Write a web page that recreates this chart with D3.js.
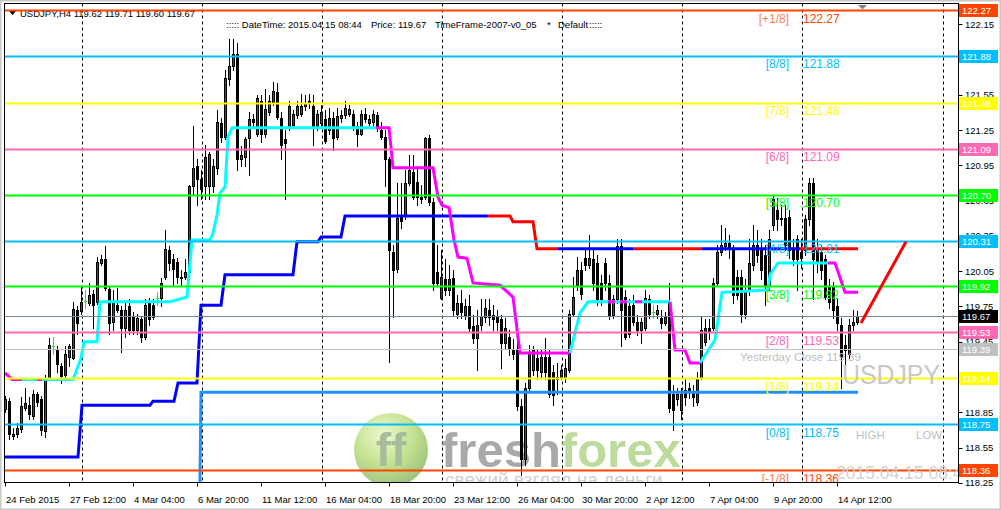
<!DOCTYPE html>
<html>
<head>
<meta charset="utf-8">
<script src="https://cdn.jsdelivr.net/npm/d3@7"></script>
<style>
  body { margin: 0; background: #fff; }
  svg { display: block; }
</style>
</head>
<body>
<svg id="chart"></svg>
<script>
// USDJPY H4, one row per bar: [open, high, low, close]
const bars = [
  [118.88,118.99,118.85,118.96],[118.95,118.97,118.62,118.67],[118.65,118.72,118.62,118.67],[118.67,118.76,118.64,118.72],
  [118.71,118.98,118.68,118.90],[118.89,119.06,118.87,118.93],[118.91,118.98,118.79,118.84],[118.82,119.04,118.79,119.01],
  [119.01,119.02,118.90,118.94],[118.96,118.99,118.66,118.70],[118.69,119.17,118.64,119.13],[119.15,119.48,119.13,119.42],
  [119.41,119.49,119.35,119.41],[119.38,119.41,119.19,119.26],[119.24,119.27,119.10,119.16],[119.17,119.41,119.15,119.35],
  [119.32,119.43,119.24,119.41],[119.31,119.79,119.30,119.73],[119.72,119.75,119.52,119.61],[119.71,119.92,119.69,119.79],
  [119.80,119.89,119.74,119.80],[119.78,119.95,119.76,119.85],[119.86,119.89,119.57,119.76],[119.79,120.17,119.77,120.13],
  [120.12,120.19,120.10,120.15],[120.15,120.26,119.89,119.91],[119.90,119.92,119.52,119.61],[119.62,119.89,119.55,119.78],
  [119.76,119.91,119.70,119.72],[119.72,119.75,119.36,119.57],[119.57,119.78,119.49,119.72],[119.75,119.81,119.52,119.55],
  [119.66,119.70,119.52,119.55],[119.55,119.69,119.52,119.65],[119.64,119.67,119.45,119.49],[119.49,119.81,119.47,119.76],
  [119.78,119.82,119.59,119.64],[119.76,119.81,119.64,119.66],[119.82,119.87,119.76,119.82],[119.82,119.99,119.75,119.95],
  [120.00,120.40,119.98,120.24],[120.23,120.26,120.06,120.12],[120.15,120.20,119.93,120.07],[120.13,120.16,119.95,120.00],
  [120.00,120.06,119.93,119.99],[120.00,120.15,119.98,120.04],[120.04,120.78,119.98,120.77],[120.77,121.28,120.71,120.93],
  [120.94,121.00,120.61,120.83],[120.83,120.91,120.66,120.75],[120.77,121.12,120.66,121.02],[120.77,121.06,120.66,121.05],
  [120.77,121.00,120.72,120.94],[120.93,121.42,120.88,121.32],[121.31,121.35,121.15,121.19],[121.19,121.76,121.17,121.69],
  [121.68,122.02,121.63,121.79],[121.79,122.02,121.76,121.90],[121.90,121.99,120.91,121.00],[121.00,121.11,120.94,121.04],
  [121.02,121.19,120.94,121.17],[121.18,121.40,120.87,121.34],[121.34,121.39,121.27,121.32],[121.22,121.55,121.20,121.52],
  [121.50,121.55,121.15,121.22],[121.22,121.60,121.19,121.43],[121.40,121.55,121.38,121.50],[121.49,121.66,121.46,121.58],
  [121.57,121.65,121.34,121.36],[121.35,121.40,121.00,121.12],[121.17,121.25,120.66,121.14],[121.28,121.50,121.25,121.45],
  [121.29,121.42,121.27,121.39],[121.38,121.50,121.35,121.45],[121.39,121.56,121.37,121.45],[121.45,121.55,121.42,121.48],
  [121.50,121.56,121.44,121.48],[121.45,121.55,121.12,121.28],[121.28,121.42,121.25,121.39],[121.31,121.46,121.29,121.40],
  [121.34,121.42,121.14,121.16],[121.25,121.44,121.22,121.35],[121.35,121.40,121.08,121.18],[121.19,121.44,121.17,121.37],
  [121.35,121.42,121.32,121.38],[121.38,121.50,121.35,121.44],[121.39,121.46,121.37,121.43],[121.39,121.42,121.25,121.28],
  [121.28,121.32,121.11,121.22],[121.22,121.42,121.21,121.39],[121.39,121.44,121.32,121.34],[121.31,121.38,121.29,121.34],
  [121.32,121.42,121.29,121.39],[121.38,121.40,121.24,121.27],[121.25,121.32,121.17,121.19],[121.19,121.25,120.77,121.00],
  [121.00,121.02,119.28,120.23],[120.21,120.27,119.66,120.06],[120.07,120.80,120.04,120.50],[120.52,120.80,120.42,120.48],
  [120.53,120.91,120.49,120.80],[120.80,121.04,120.78,120.91],[120.89,121.04,120.66,120.68],[120.81,120.94,120.61,120.68],
  [120.68,120.78,120.63,120.66],[120.68,121.19,120.66,121.18],[121.18,121.21,120.61,120.64],[120.64,120.67,119.89,119.95],
  [120.04,120.27,119.92,119.95],[119.82,120.23,119.81,120.00],[119.98,120.15,119.85,119.89],[119.89,120.10,119.85,119.98],
  [119.99,120.06,119.68,119.72],[119.69,119.85,119.65,119.78],[119.78,119.89,119.65,119.70],[119.68,119.81,119.64,119.75],
  [119.75,119.85,119.53,119.57],[119.58,119.68,119.44,119.48],[119.48,119.72,119.21,119.59],[119.59,119.81,119.55,119.67],
  [119.66,119.81,119.62,119.74],[119.72,119.81,119.59,119.66],[119.68,119.76,119.55,119.64],[119.66,119.72,119.55,119.62],
  [119.64,119.68,119.23,119.44],[119.44,119.65,119.40,119.57],[119.49,119.55,119.34,119.40],[119.38,119.47,119.30,119.35],
  [119.38,119.61,118.87,118.90],[118.90,118.96,118.32,118.45],[118.45,119.10,118.40,119.06],[119.06,119.42,119.02,119.36],
  [119.21,119.41,119.17,119.38],[119.31,119.38,119.13,119.21],[119.19,119.38,119.14,119.32],[119.32,119.48,119.13,119.19],
  [119.32,119.38,118.98,119.01],[119.19,119.25,118.91,119.00],[119.13,119.27,119.01,119.15],[119.15,119.25,119.13,119.21],
  [119.14,119.30,119.11,119.23],[119.21,119.72,119.19,119.69],[119.69,120.00,119.68,119.83],[119.93,120.17,119.89,120.06],
  [120.06,120.13,119.81,119.86],[120.16,120.23,120.06,120.10],[120.10,120.36,120.08,120.16],[120.15,120.23,119.89,119.95],
  [120.12,120.19,119.76,119.81],[119.95,120.02,119.76,119.81],[120.12,120.16,119.89,119.95],[119.95,120.02,119.64,119.68],
  [119.68,119.85,119.65,119.81],[119.81,120.32,119.78,120.26],[120.26,120.32,119.41,119.72],[119.83,119.89,119.47,119.49],
  [119.75,119.81,119.49,119.52],[119.76,119.85,119.59,119.62],[119.62,119.68,119.51,119.55],[119.55,119.65,119.44,119.62],
  [119.57,119.89,119.55,119.82],[119.81,119.85,119.65,119.69],[119.70,119.76,119.65,119.70],[119.69,119.76,119.65,119.72],
  [119.65,119.72,119.57,119.61],[119.61,119.70,119.59,119.66],[119.78,119.95,118.85,118.89],[119.01,119.08,118.70,118.87],
  [118.96,119.06,118.91,119.01],[118.87,119.06,118.79,119.01],[119.04,119.13,118.91,118.98],[119.06,119.10,118.97,119.02],
  [119.02,119.08,118.90,118.98],[118.94,119.19,118.91,119.14],[119.14,119.66,119.13,119.55],[119.45,119.64,119.42,119.57],
  [119.57,119.64,119.47,119.53],[119.57,119.99,119.55,119.95],[119.95,120.27,119.93,120.21],[120.21,120.44,120.19,120.27],
  [120.26,120.42,120.23,120.29],[120.29,120.36,120.16,120.25],[120.23,120.27,119.78,119.85],[120.00,120.06,119.81,119.85],
  [120.00,120.06,119.62,119.69],[119.69,119.98,119.65,119.89],[119.89,120.32,119.85,120.12],[120.10,120.44,120.06,120.27],
  [120.27,120.40,120.13,120.19],[120.23,120.32,119.98,120.06],[120.19,120.27,119.76,119.93],[119.93,120.40,119.89,120.32],
  [120.44,120.70,120.40,120.66],[120.57,120.67,120.40,120.49],[120.49,120.61,120.44,120.50],[120.50,120.61,120.23,120.27],
  [120.51,120.57,120.16,120.23],[120.23,120.32,120.10,120.15],[120.32,120.36,119.89,120.15],[120.21,120.32,120.08,120.16],
  [120.23,120.53,120.19,120.49],[120.49,120.84,120.44,120.80],[120.80,120.84,119.81,120.15],[120.23,120.32,120.04,120.13],
  [120.21,120.27,119.98,120.06],[120.15,120.19,119.81,119.83],[119.92,119.98,119.74,119.79],[119.92,119.96,119.65,119.72],
  [119.75,119.81,119.55,119.61],[119.59,119.65,119.06,119.32],[119.42,119.51,119.25,119.38],[119.35,119.64,119.31,119.59],
  [119.59,119.72,119.55,119.62],[119.62,119.71,119.60,119.67]
];

// Murrey Math levels
const mmNames  = ["[+1/8]", "[8/8]", "[7/8]", "[6/8]", "[5/8]", "[4/8]", "[3/8]", "[2/8]", "[1/8]", "[0/8]", "[-1/8]"];
const mmValues = [122.27, 121.88, 121.48, 121.09, 120.70, 120.31, 119.92, 119.53, 119.14, 118.75, 118.36];
const lastPrice = 119.67;
const yesterdayClose = 119.39;

// trailing trend line [bar, price] and its up / down stretches
const trendPts = [[0,119.185],[1.75,119.13],[17,119.13],[19,119.31],[19.75,119.45],[23,119.45],[23.75,119.79],
  [41.25,119.79],[45.5,119.83],[46.75,120.315],[51.25,120.315],[52,120.375],[53,120.53],[53.75,120.715],[55,120.765],
  [55.75,121.19],[56.75,121.27],[96,121.27],[97,120.93],[107,120.93],[108.25,120.68],[109.25,120.61],[111,120.59],
  [112.25,120.315],[113.25,120.17],[115.5,120.16],[117,119.95],[123.75,119.93],[127,119.83],[128.75,119.355],
  [141.25,119.355],[143.75,119.695],[145.75,119.79],[166.25,119.79],[167.5,119.38],[170,119.38],[171.25,119.27],
  [173.75,119.27],[177.5,119.465],[179.25,119.87],[190.75,119.89],[191.25,120.02],[193.25,120.12],[207.5,120.12],
  [210,119.87],[213.25,119.87]];
const trendState = [[0,4.25,"dn"],[4.25,8,"up"],[8,9.25,"dn"],[9.25,92.75,"up"],[92.75,141.25,"dn"],[141.25,166.25,"up"],
  [150.75,152.5,"dn"],[153.75,155.5,"dn"],[157.5,159.25,"dn"],[166.25,173.75,"dn"],[173.75,205.75,"up"],[205.75,213.25,"dn"]];

// stepped channel line [bar, price] and its up / down stretches
const stepPts = [[0,118.47],[18.25,118.47],[19.25,118.91],[36.25,118.91],[37,118.945],[42.25,118.945],[43.25,119.10],
  [48,119.10],[49,119.76],[54,119.76],[55,120.02],[72,120.02],[73,120.30],[78.25,120.30],[79,120.34],[84,120.34],
  [85,120.52],[126.25,120.52],[127,120.47],[132,120.47],[133,120.24],[213.25,120.24]];
const stepState = [[0,120.75,"up"],[120.75,138.25,"dn"],[138.25,157,"up"],[157,174.25,"dn"],[174.25,198.75,"up"],[198.75,213.25,"dn"]];

// support line and forecast line
const supportPts = [[48.75,117.8],[48.75,118.3],[49,119.02],[213.25,119.02]];
const forecastPts = [[214,119.61],[225.25,120.30]];

// axes (121.85 and 119.15 sit under the level boxes and are not shown)
const priceTicks = [118.25,118.55,118.85,119.45,119.75,120.05,120.35,120.65,120.95,121.25,121.55,122.15];
const timeLabels = ["24 Feb 2015","27 Feb 12:00","4 Mar 04:00","6 Mar 20:00","11 Mar 12:00","16 Mar 04:00","18 Mar 20:00",
  "23 Mar 12:00","26 Mar 04:00","30 Mar 20:00","2 Apr 12:00","7 Apr 04:00","9 Apr 20:00","14 Apr 12:00"];
const gridBars = [19.25, 49.25, 79.25, 109.25, 139.25, 169.25, 199.25, 234.5];

// ---------------------------------------------------------------
const W = 1001, H = 510;
const plot = {left: 4.5, right: 958.5, top: 3.5, bottom: 482.5};
const svg = d3.select("#chart").attr("width", W).attr("height", H);
const font = "'Liberation Sans', Arial, sans-serif";

const x = d3.scaleLinear().domain([0, 213]).range([5, 857]);
const y = d3.scaleLinear().domain([118.36, 122.27]).range([470, 10]);

const mmColor = ["#ff4500","#00bfff","#ffff00","#ff69b4","#00ff00","#00bfff","#00ff00","#ff69b4","#ffff00","#00bfff","#ff4500"];
const mmText  = ["#ff7f50","#00bfff","#ffff00","#ff69b4","#00ff00","#00bfff","#00ff00","#ff69b4","#ffff00","#00bfff","#ff7f50"];

svg.append("rect").attr("x", 0.5).attr("y", 0.5).attr("width", W - 1).attr("height", H - 1)
  .attr("fill", "#fff").attr("stroke", "#c8c8c8").attr("stroke-width", 2);

svg.append("clipPath").attr("id", "plotClip").append("rect")
  .attr("x", plot.left).attr("y", plot.top).attr("width", plot.right - plot.left).attr("height", plot.bottom - plot.top);

const g = svg.append("g").attr("clip-path", "url(#plotClip)");

// weekly separators
g.selectAll(".grid").data(gridBars).enter().append("line")
  .attr("x1", d => Math.round(x(d)) + 0.5).attr("x2", d => Math.round(x(d)) + 0.5)
  .attr("y1", plot.top).attr("y2", plot.bottom)
  .attr("stroke", "#000").attr("stroke-dasharray", "3,3");

// watermark
const wm = g.append("g").attr("opacity", 0.6);
const grad = svg.append("defs").append("radialGradient").attr("id", "ball").attr("cx", "40%").attr("cy", "30%").attr("r", "70%");
grad.append("stop").attr("offset", "0%").attr("stop-color", "#e6f5b0");
grad.append("stop").attr("offset", "55%").attr("stop-color", "#9fd04a");
grad.append("stop").attr("offset", "100%").attr("stop-color", "#5e9e2a");
wm.append("circle").attr("cx", 391).attr("cy", 450).attr("r", 37).attr("fill", "url(#ball)");
wm.append("text").attr("x", 391).attr("y", 466).attr("text-anchor", "middle")
  .attr("font-family", font).attr("font-weight", "bold").attr("font-size", 46).attr("fill", "#6b8f5a").text("ff");
const brand = wm.append("text").attr("x", 441).attr("y", 467)
  .attr("font-family", font).attr("font-weight", "bold").attr("font-size", 49);
brand.append("tspan").attr("fill", "#707070").text("fresh");
brand.append("tspan").attr("fill", "#8fc45a").text("forex");
wm.append("text").attr("x", 445).attr("y", 486).attr("font-family", font).attr("font-size", 19)
  .attr("fill", "#b0b0b0").text("свежий взгляд на деньги");

// header
g.append("path").attr("d", "M9,11 L16,11 L12.5,15 Z").attr("fill", "#000");
g.append("text").attr("x", 20).attr("y", 17).attr("font-family", font).attr("font-size", 9.5)
  .attr("fill", "#000").text("USDJPY,H4  " + bars[bars.length - 1].map(v => v.toFixed(2)).join(" "));
const info = [[226, "::::: DateTime: 2015.04.15 08:44"], [371, "Price: " + lastPrice.toFixed(2)],
  [435, "TimeFrame-2007-v0_05"], [547, "*"], [558, "Default"], [589, ":::::"]];
g.selectAll(".info").data(info).enter().append("text")
  .attr("x", d => d[0]).attr("y", 28).attr("font-family", font).attr("font-size", 9.5)
  .attr("fill", "#000").text(d => d[1]);

// candles
const px = v => Math.round(y(v));
const cand = g.append("g");
bars.forEach((b, i) => {
  const [o, h, l, c] = b;
  const cx = Math.round(x(i));
  const doji = o === c;
  const ink = doji ? "#00ff00" : "#000";
  cand.append("line").attr("x1", cx + 0.5).attr("x2", cx + 0.5)
    .attr("y1", px(h)).attr("y2", px(l) + 1).attr("stroke", ink);
  if (doji) {
    cand.append("line").attr("x1", cx - 1).attr("x2", cx + 2)
      .attr("y1", px(c) + 0.5).attr("y2", px(c) + 0.5).attr("stroke", ink);
    return;
  }
  const top = px(Math.max(o, c)), bot = px(Math.min(o, c));
  cand.append("rect").attr("x", cx - 0.5).attr("y", top + 0.5)
    .attr("width", 2).attr("height", Math.max(bot - top, 1))
    .attr("fill", c > o ? "#ff0000" : "#000").attr("stroke", "#000");
});

// helpers for coloured stretches of a polyline
function valueAt(pts, t) {
  for (let k = 1; k < pts.length; k++) {
    if (t <= pts[k][0]) {
      const a = pts[k - 1], b = pts[k];
      const f = b[0] === a[0] ? 1 : (t - a[0]) / (b[0] - a[0]);
      return a[1] + f * (b[1] - a[1]);
    }
  }
  return pts[pts.length - 1][1];
}
function stretch(pts, a, b) {
  const out = [[a, valueAt(pts, a)]];
  pts.forEach(p => { if (p[0] > a && p[0] < b) out.push(p); });
  out.push([b, valueAt(pts, b)]);
  return out;
}
const line = d3.line().x(d => x(d[0])).y(d => y(d[1]));

// support line (dodger blue)
g.append("path").attr("d", line(supportPts)).attr("fill", "none")
  .attr("stroke", "#1e90ff").attr("stroke-width", 3);

// stepped channel line
stepState.forEach(s => {
  g.append("path").attr("d", line(stretch(stepPts, s[0], s[1]))).attr("fill", "none")
    .attr("stroke", s[2] === "up" ? "#0000ff" : "#ff0000").attr("stroke-width", 3);
});

// trend line
trendState.forEach(s => {
  g.append("path").attr("d", line(stretch(trendPts, s[0], s[1]))).attr("fill", "none")
    .attr("stroke", s[2] === "up" ? "#00ffff" : "#ff00ff").attr("stroke-width", 3);
});

// Murrey Math lines
g.selectAll(".mm").data(mmValues).enter().append("line")
  .attr("x1", plot.left).attr("x2", plot.right)
  .attr("y1", d => px(d) + 0.5).attr("y2", d => px(d) + 0.5)
  .attr("stroke", (d, i) => mmColor[i]).attr("stroke-width", 2);

// last price and yesterday close
g.append("line").attr("x1", plot.left).attr("x2", plot.right)
  .attr("y1", px(lastPrice) + 0.5).attr("y2", px(lastPrice) + 0.5).attr("stroke", "#778899");
g.append("line").attr("x1", plot.left).attr("x2", plot.right)
  .attr("y1", px(yesterdayClose) + 0.5).attr("y2", px(yesterdayClose) + 0.5).attr("stroke", "#c0c0c0");

// forecast line
g.append("path").attr("d", line(forecastPts)).attr("fill", "none")
  .attr("stroke", "#ff0000").attr("stroke-width", 3);

// level captions
g.selectAll(".mmName").data(mmNames).enter().append("text")
  .attr("x", 789).attr("y", (d, i) => y(mmValues[i]) + 12.5).attr("text-anchor", "end")
  .attr("font-family", font).attr("font-size", 12).attr("fill", (d, i) => mmText[i]).text(d => d);
g.selectAll(".mmVal").data(mmValues).enter().append("text")
  .attr("x", 803).attr("y", d => y(d) + 12.5)
  .attr("font-family", font).attr("font-size", 12).attr("fill", (d, i) => mmColor[i]).text(d => d.toFixed(2));

g.append("text").attr("x", 740).attr("y", y(yesterdayClose) + 12)
  .attr("font-family", font).attr("font-size", 11.5).attr("fill", "#c0c0c0")
  .text("Yesterday Close " + yesterdayClose.toFixed(2));
g.append("text").attr("x", 842).attr("y", 384).attr("textLength", 98).attr("lengthAdjust", "spacingAndGlyphs")
  .attr("font-family", font).attr("font-size", 28).attr("fill", "#c8c8c8").text("USDJPY");
g.append("text").attr("x", 856).attr("y", 439).attr("font-family", font).attr("font-size", 11.5)
  .attr("fill", "#c0c0c0").text("HIGH");
g.append("text").attr("x", 916).attr("y", 439).attr("font-family", font).attr("font-size", 11.5)
  .attr("fill", "#c0c0c0").text("LOW");
g.append("text").attr("x", 836).attr("y", 479).attr("font-family", font).attr("font-size", 17.5)
  .attr("fill", "#d3d3d3").text("2015.04.15 08:44");

// chart shift marker
svg.append("path").attr("d", "M858,5 L867,5 L862.5,9.5 Z").attr("fill", "#808080");

// frame
svg.append("rect").attr("x", plot.left).attr("y", plot.top)
  .attr("width", plot.right - plot.left).attr("height", plot.bottom - plot.top)
  .attr("fill", "none").attr("stroke", "#000");

// price axis
const ax = svg.append("g");
ax.selectAll(".tick").data(priceTicks).enter().append("line")
  .attr("x1", plot.right).attr("x2", plot.right + 4)
  .attr("y1", d => px(d) + 0.5).attr("y2", d => px(d) + 0.5).attr("stroke", "#000");
ax.selectAll(".tickLabel").data(priceTicks).enter().append("text")
  .attr("x", 965).attr("y", d => y(d) + 3.5)
  .attr("font-family", font).attr("font-size", 9.5).attr("fill", "#000").text(d => d.toFixed(2));

// price boxes
const boxes = mmValues.map((v, i) => ({v, c: mmColor[i]}))
  .concat([{v: lastPrice, c: "#000"}, {v: yesterdayClose, c: "#c0c0c0"}]);
const bx = ax.selectAll(".box").data(boxes).enter().append("g");
bx.append("rect").attr("x", 959).attr("y", d => px(d.v) - 6).attr("width", 39).attr("height", 13).attr("fill", d => d.c);
bx.append("text").attr("x", 962).attr("y", d => px(d.v) + 4)
  .attr("font-family", font).attr("font-size", 9.5).attr("fill", "#fff").text(d => d.v.toFixed(2));

// time axis
const tx = svg.append("g");
tx.selectAll(".tt").data(timeLabels).enter().append("line")
  .attr("x1", (d, i) => Math.round(x(i * 16)) + 0.5).attr("x2", (d, i) => Math.round(x(i * 16)) + 0.5)
  .attr("y1", plot.bottom).attr("y2", plot.bottom + 4).attr("stroke", "#000");
tx.selectAll(".tl").data(timeLabels).enter().append("text")
  .attr("x", (d, i) => Math.round(x(i * 16)) + 1).attr("y", 503)
  .attr("font-family", font).attr("font-size", 9.5).attr("fill", "#000").text(d => d);
</script>
</body>
</html>
